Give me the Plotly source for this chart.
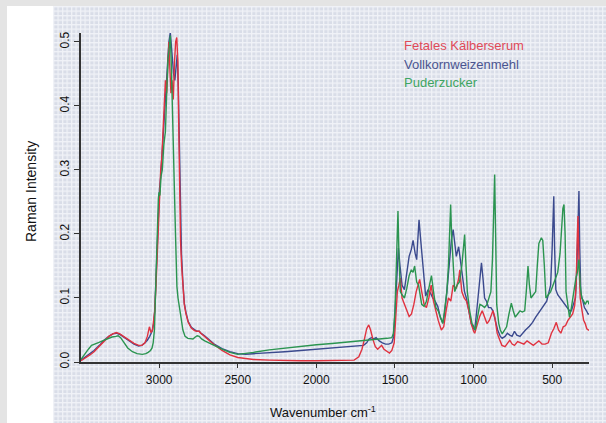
import base64
import plotly.graph_objects as go

# ---------------- data ----------------
series_names = ["Fetales Kälberserum", "Vollkornweizenmehl", "Puderzucker"]

wn_red = [3497, 3470, 3440, 3414, 3380, 3350, 3320, 3295, 3272, 3250, 3220, 3190, 3160, 3130, 3110, 3090, 3075, 3062,
          3052, 3042, 3035, 3028, 3020, 3012, 3005, 2998, 2990, 2983, 2976, 2968, 2960, 2952, 2945, 2938, 2932, 2925,
          2918, 2910, 2902, 2895, 2888, 2881, 2876, 2870, 2864, 2857, 2849, 2840, 2830, 2815, 2795, 2775, 2760, 2745,
          2735, 2711, 2680, 2650, 2600, 2550, 2500, 2450, 2400, 2300, 2200, 2100, 2000, 1900, 1800, 1760, 1730, 1710,
          1695, 1680, 1667, 1655, 1640, 1625, 1610, 1597, 1585, 1570, 1550, 1535, 1520, 1505, 1495, 1485, 1475, 1466,
          1455, 1440, 1425, 1410, 1395, 1380, 1365, 1350, 1343, 1330, 1315, 1300, 1285, 1270, 1255, 1240, 1225, 1205,
          1190, 1175, 1160, 1145, 1130, 1110, 1095, 1088, 1075, 1060, 1045, 1030, 1015, 1000, 993, 975, 960, 945, 930,
          915, 900, 885, 877, 865, 850, 835, 820, 800, 785, 770, 755, 740, 720, 700, 680, 660, 640, 620, 600, 585, 565,
          545, 525, 505, 490, 474, 460, 445, 430, 415, 400, 385, 370, 357, 348, 340, 336, 330, 322, 310, 300, 290, 280,
          270, 266]
int_red = [0.002, 0.006, 0.011, 0.016, 0.025, 0.033, 0.040, 0.044, 0.046, 0.044, 0.039, 0.034, 0.029, 0.026, 0.026,
           0.030, 0.040, 0.055, 0.046, 0.050, 0.062, 0.080, 0.120, 0.170, 0.230, 0.265, 0.300, 0.320, 0.360, 0.410,
           0.440, 0.420, 0.470, 0.500, 0.460, 0.420, 0.440, 0.410, 0.470, 0.500, 0.507, 0.470, 0.380, 0.260, 0.190,
           0.150, 0.118, 0.090, 0.076, 0.062, 0.053, 0.049, 0.048, 0.048, 0.045, 0.040, 0.033, 0.027, 0.018, 0.011,
           0.007, 0.005, 0.004, 0.003, 0.002, 0.002, 0.002, 0.002, 0.002, 0.003, 0.008, 0.020, 0.035, 0.052, 0.058,
           0.050, 0.035, 0.024, 0.020, 0.024, 0.026, 0.020, 0.016, 0.014, 0.018, 0.030, 0.070, 0.110, 0.120, 0.131,
           0.100, 0.090, 0.078, 0.071, 0.075, 0.090, 0.110, 0.125, 0.129, 0.110, 0.090, 0.085, 0.100, 0.120, 0.095,
           0.080, 0.065, 0.050, 0.055, 0.080, 0.100, 0.095, 0.120, 0.115, 0.130, 0.144, 0.110, 0.100, 0.095, 0.080,
           0.060, 0.048, 0.045, 0.060, 0.072, 0.080, 0.070, 0.060, 0.065, 0.075, 0.080, 0.070, 0.045, 0.035, 0.026,
           0.024, 0.030, 0.034, 0.028, 0.026, 0.032, 0.030, 0.028, 0.033, 0.030, 0.026, 0.030, 0.033, 0.028, 0.028,
           0.030, 0.045, 0.052, 0.062, 0.050, 0.045, 0.055, 0.057, 0.065, 0.070, 0.075, 0.088, 0.120, 0.200, 0.228,
           0.160, 0.100, 0.080, 0.065, 0.060, 0.052, 0.050, 0.050]

wn_blue = [3497, 3470, 3440, 3414, 3380, 3350, 3320, 3295, 3272, 3250, 3220, 3190, 3160, 3130, 3110, 3090, 3075, 3060,
           3045, 3035, 3028, 3020, 3012, 3005, 2998, 2990, 2980, 2970, 2960, 2952, 2945, 2938, 2929, 2922, 2915, 2908,
           2900, 2892, 2885, 2878, 2872, 2866, 2858, 2849, 2840, 2830, 2815, 2795, 2775, 2760, 2745, 2735, 2711, 2680,
           2650, 2600, 2550, 2500, 2450, 2400, 2300, 2200, 2100, 2000, 1900, 1800, 1750, 1700, 1680, 1665, 1650, 1635,
           1620, 1600, 1580, 1560, 1540, 1520, 1508, 1498, 1488, 1478, 1468, 1455, 1440, 1425, 1410, 1396, 1385, 1372,
           1362, 1355, 1347, 1338, 1325, 1315, 1305, 1290, 1275, 1260, 1245, 1228, 1212, 1196, 1185, 1170, 1160, 1150,
           1141, 1130, 1120, 1110, 1095, 1085, 1070, 1058, 1046, 1030, 1015, 1000, 993, 980, 965, 955, 950, 940, 930,
           918, 905, 890, 877, 862, 847, 830, 818, 800, 785, 770, 755, 740, 725, 705, 690, 670, 645, 625, 605, 590, 580,
           565, 550, 535, 520, 510, 500, 493, 490, 485, 477, 465, 450, 435, 420, 405, 390, 378, 365, 352, 343, 335, 330,
           325, 318, 305, 295, 282, 272, 266]
int_blue = [0.003, 0.008, 0.013, 0.018, 0.026, 0.034, 0.040, 0.044, 0.045, 0.043, 0.038, 0.033, 0.028, 0.025, 0.026,
            0.030, 0.034, 0.040, 0.048, 0.060, 0.080, 0.130, 0.190, 0.240, 0.270, 0.290, 0.330, 0.370, 0.410, 0.440,
            0.470, 0.500, 0.515, 0.490, 0.470, 0.450, 0.440, 0.470, 0.480, 0.430, 0.330, 0.240, 0.170, 0.125, 0.092,
            0.078, 0.063, 0.054, 0.050, 0.048, 0.048, 0.045, 0.041, 0.034, 0.028, 0.021, 0.016, 0.013, 0.012, 0.013,
            0.014, 0.016, 0.018, 0.020, 0.021, 0.023, 0.024, 0.026, 0.030, 0.036, 0.038, 0.036, 0.038, 0.033, 0.030,
            0.028, 0.028, 0.030, 0.040, 0.090, 0.150, 0.178, 0.150, 0.120, 0.113, 0.140, 0.165, 0.176, 0.190, 0.170,
            0.160, 0.190, 0.222, 0.195, 0.154, 0.120, 0.103, 0.113, 0.108, 0.100, 0.095, 0.087, 0.070, 0.061, 0.075,
            0.110, 0.136, 0.170, 0.191, 0.207, 0.180, 0.165, 0.180, 0.160, 0.130, 0.110, 0.100, 0.080, 0.060, 0.052,
            0.050, 0.080, 0.120, 0.150, 0.155, 0.130, 0.100, 0.095, 0.085, 0.085, 0.080, 0.065, 0.050, 0.040, 0.037,
            0.040, 0.045, 0.042, 0.040, 0.048, 0.042, 0.040, 0.045, 0.050, 0.056, 0.062, 0.070, 0.075, 0.080, 0.085,
            0.090, 0.095, 0.110, 0.120, 0.180, 0.240, 0.259, 0.180, 0.113, 0.105, 0.100, 0.095, 0.090, 0.085, 0.080,
            0.080, 0.090, 0.100, 0.150, 0.230, 0.267, 0.180, 0.107, 0.095, 0.085, 0.080, 0.075, 0.075]

wn_green = [3497, 3475, 3450, 3430, 3414, 3390, 3360, 3330, 3300, 3275, 3261, 3245, 3225, 3200, 3170, 3140, 3107, 3085,
            3070, 3055, 3045, 3038, 3030, 3025, 3018, 3012, 3005, 3001, 2995, 2988, 2980, 2970, 2960, 2952, 2944, 2936,
            2929, 2922, 2916, 2910, 2905, 2901, 2896, 2891, 2887, 2880, 2870, 2860, 2849, 2835, 2817, 2800, 2785, 2770,
            2758, 2745, 2730, 2710, 2680, 2650, 2600, 2550, 2500, 2450, 2400, 2300, 2200, 2100, 2000, 1900, 1800, 1750,
            1700, 1650, 1600, 1550, 1520, 1510, 1500, 1492, 1485, 1481, 1475, 1466, 1455, 1440, 1425, 1410, 1396, 1385,
            1375, 1362, 1350, 1340, 1330, 1315, 1300, 1285, 1268, 1255, 1240, 1225, 1210, 1196, 1185, 1170, 1160, 1152,
            1146, 1140, 1132, 1120, 1105, 1090, 1075, 1065, 1057, 1050, 1040, 1025, 1010, 1002, 990, 975, 960, 945, 930,
            915, 900, 890, 880, 872, 866, 860, 853, 840, 830, 818, 805, 790, 775, 760, 748, 735, 720, 705, 690, 675, 665,
            654, 645, 635, 620, 605, 595, 585, 569, 560, 550, 540, 525, 510, 495, 480, 465, 450, 440, 432, 425, 418, 412,
            400, 390, 378, 365, 350, 340, 330, 322, 312, 300, 290, 280, 272, 266]
int_green = [0.004, 0.012, 0.020, 0.026, 0.028, 0.030, 0.033, 0.036, 0.039, 0.040, 0.041, 0.038, 0.030, 0.022, 0.016,
             0.013, 0.012, 0.013, 0.015, 0.018, 0.022, 0.030, 0.050, 0.090, 0.160, 0.220, 0.255, 0.265, 0.260, 0.290,
             0.300, 0.340, 0.360, 0.420, 0.473, 0.490, 0.510, 0.460, 0.390, 0.340, 0.290, 0.249, 0.200, 0.155, 0.118,
             0.100, 0.087, 0.068, 0.050, 0.040, 0.037, 0.036, 0.036, 0.039, 0.041, 0.040, 0.036, 0.033, 0.030, 0.026,
             0.020, 0.015, 0.012, 0.013, 0.015, 0.019, 0.022, 0.025, 0.027, 0.029, 0.031, 0.033, 0.034, 0.035, 0.036,
             0.037, 0.038, 0.045, 0.080, 0.150, 0.210, 0.236, 0.170, 0.110, 0.105, 0.100, 0.115, 0.135, 0.144, 0.140,
             0.150, 0.125, 0.120, 0.105, 0.090, 0.087, 0.095, 0.115, 0.135, 0.110, 0.085, 0.080, 0.070, 0.060, 0.080,
             0.110, 0.150, 0.210, 0.246, 0.200, 0.155, 0.110, 0.120, 0.125, 0.150, 0.185, 0.199, 0.160, 0.110, 0.080,
             0.060, 0.057, 0.050, 0.070, 0.090, 0.088, 0.085, 0.090, 0.100, 0.110, 0.160, 0.260, 0.293, 0.200, 0.090,
             0.060, 0.050, 0.044, 0.050, 0.055, 0.075, 0.092, 0.080, 0.070, 0.075, 0.080, 0.078, 0.080, 0.110, 0.150,
             0.120, 0.100, 0.105, 0.110, 0.150, 0.185, 0.194, 0.190, 0.150, 0.100, 0.105, 0.110, 0.120, 0.130, 0.140,
             0.170, 0.220, 0.240, 0.246, 0.200, 0.110, 0.090, 0.070, 0.085, 0.110, 0.130, 0.140, 0.160, 0.120, 0.100,
             0.095, 0.090, 0.095, 0.095, 0.090]

x_tick_vals = [3000, 2500, 2000, 1500, 1000, 500]
y_tick_vals = [0.0, 0.1, 0.2, 0.3, 0.4, 0.5]

# ---------------- style ----------------
W, H = 606, 423
ML, MR, MT, MB = 81, 17, 33, 61
PW, PH = W - ML - MR, H - MT - MB
FONT = "Liberation Sans, Arial, sans-serif"
line_colors = ["#e0323f", "#3b4a8e", "#2b9450"]
text_colors = ["#e04a58", "#4b5590", "#3fa562"]


def px_x(px):
    return (px - ML) / PW


def px_y(py):
    return (H - MB - py) / PH


fig = go.Figure()
for name, wn, val, col in [(series_names[1], wn_blue, int_blue, line_colors[1]),
                           (series_names[0], wn_red, int_red, line_colors[0]),
                           (series_names[2], wn_green, int_green, line_colors[2])]:
    fig.add_trace(go.Scatter(x=wn, y=val, mode="lines", name=name,
                             line=dict(color=col, width=1.4), showlegend=False))

# grid-pattern background image
svg = ("<svg xmlns='http://www.w3.org/2000/svg' width='553' height='417'>"
       "<defs><pattern id='p' width='4.5' height='4.5' patternUnits='userSpaceOnUse'>"
       "<rect width='4.5' height='4.5' fill='#d9dde8'/>"
       "<path d='M0 0.6H4.5M0.6 0V4.5' stroke='#f0f2f7' stroke-width='1.3'/>"
       "</pattern></defs><rect width='100%' height='100%' fill='url(#p)'/></svg>")
src = "data:image/svg+xml;base64," + base64.b64encode(svg.encode()).decode()

fig.update_layout(
    width=W, height=H,
    margin=dict(l=ML, r=MR, t=MT, b=MB, pad=0),
    paper_bgcolor="#e4e4e4",
    plot_bgcolor="rgba(0,0,0,0)",
    font=dict(family=FONT, size=12, color="#222"),
    showlegend=False,
    images=[dict(source=src, xref="paper", yref="paper", x=px_x(53), y=px_y(6),
                 sizex=(W - 53) / PW, sizey=(H - 6) / PH, xanchor="left", yanchor="top",
                 sizing="stretch", layer="below")],
    shapes=[dict(type="rect", xref="paper", yref="paper", x0=px_x(7), x1=px_x(53),
                 y0=px_y(H + 2), y1=px_y(6), fillcolor="white", line=dict(width=0), layer="below")],
    xaxis=dict(range=[3497, 266], tickvals=x_tick_vals, ticks="outside", ticklen=4, tickwidth=1.2,
               tickcolor="#333", showline=True, linecolor="#333", linewidth=1.5, showgrid=False,
               zeroline=False, tickfont=dict(size=12, color="#111"), ticklabelstandoff=2),
    yaxis=dict(range=[0, 0.514], tickvals=y_tick_vals, tickformat=".1f", ticks="outside", ticklen=5,
               tickwidth=1.2, tickcolor="#333", showline=True, linecolor="#333", linewidth=1.5,
               showgrid=False, zeroline=False, tickangle=-90, tickfont=dict(size=12, color="#111")),
)

annotations = [
    dict(text="Wavenumber cm<sup>-1</sup>", x=px_x(323), y=px_y(412), xref="paper", yref="paper",
         showarrow=False, font=dict(size=13, color="#111"), xanchor="center", yanchor="middle"),
    dict(text="Raman Intensity", x=px_x(31), y=px_y(192), xref="paper", yref="paper", textangle=-90,
         showarrow=False, font=dict(size=14, color="#111"), xanchor="center", yanchor="middle"),
]
for i, (name, col) in enumerate(zip(series_names, text_colors)):
    annotations.append(dict(text=name, x=px_x(402), y=px_y(46 + i * 18.5), xref="paper", yref="paper",
                            showarrow=False, font=dict(size=13, color=col), xanchor="left",
                            yanchor="middle"))
fig.update_layout(annotations=annotations)

fig.write_html("out.html", config={"displayModeBar": False},
               post_script="document.body.style.margin='0';document.body.style.overflow='hidden';")
